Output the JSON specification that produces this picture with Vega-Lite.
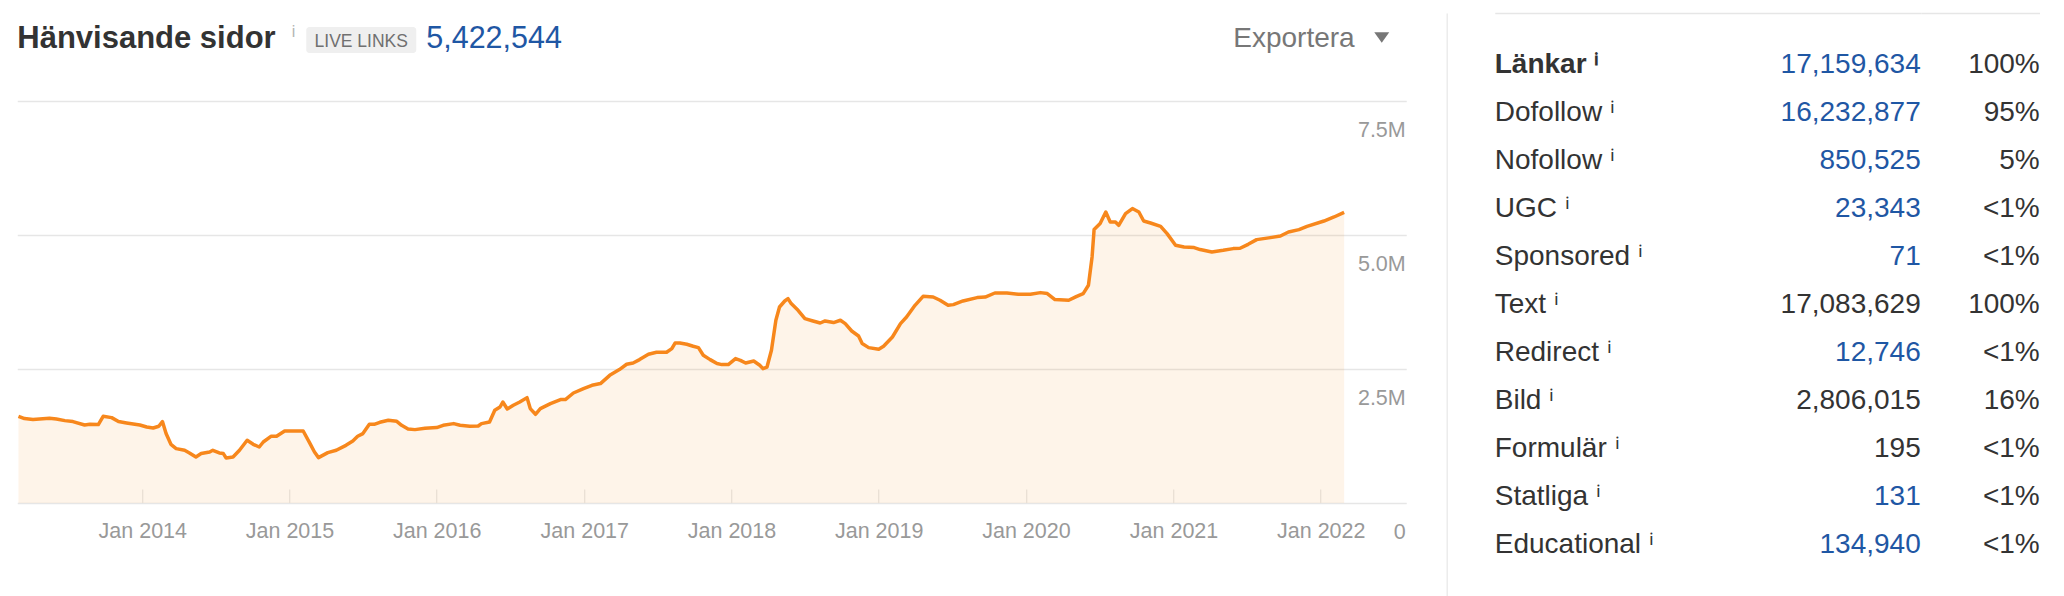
{
  "$schema": "https://vega.github.io/schema/vega-lite/v6.json",
  "padding": {"left": 16.25, "top": 13, "right": 0, "bottom": 0},
  "background": "white",
  "config": {"view": {"stroke": null}, "font": "Liberation Sans"},
  "datasets": {
    "links": [
      {"date": "2013-02-28", "links": 1618000}, {"date": "2013-03-15", "links": 1575000}, {"date": "2013-04-05", "links": 1556000},
      {"date": "2013-05-16", "links": 1580000}, {"date": "2013-06-02", "links": 1567000}, {"date": "2013-06-23", "links": 1537000},
      {"date": "2013-07-13", "links": 1519000}, {"date": "2013-08-11", "links": 1455000}, {"date": "2013-08-24", "links": 1468000},
      {"date": "2013-09-14", "links": 1463000}, {"date": "2013-09-26", "links": 1618000}, {"date": "2013-10-17", "links": 1593000},
      {"date": "2013-11-03", "links": 1519000}, {"date": "2013-11-23", "links": 1493000}, {"date": "2013-12-26", "links": 1455000},
      {"date": "2014-01-12", "links": 1418000}, {"date": "2014-01-28", "links": 1399000}, {"date": "2014-02-11", "links": 1431000},
      {"date": "2014-02-20", "links": 1519000}, {"date": "2014-03-01", "links": 1295000}, {"date": "2014-03-13", "links": 1095000},
      {"date": "2014-03-26", "links": 1015000}, {"date": "2014-04-16", "links": 983000}, {"date": "2014-04-28", "links": 933000},
      {"date": "2014-05-14", "links": 858000}, {"date": "2014-05-27", "links": 922000}, {"date": "2014-06-17", "links": 951000},
      {"date": "2014-06-25", "links": 983000}, {"date": "2014-07-11", "links": 933000}, {"date": "2014-07-21", "links": 922000},
      {"date": "2014-07-28", "links": 840000}, {"date": "2014-08-14", "links": 858000}, {"date": "2014-08-30", "links": 983000},
      {"date": "2014-09-18", "links": 1170000}, {"date": "2014-10-03", "links": 1095000}, {"date": "2014-10-18", "links": 1045000},
      {"date": "2014-10-28", "links": 1138000}, {"date": "2014-11-16", "links": 1244000}, {"date": "2014-11-30", "links": 1244000},
      {"date": "2014-12-20", "links": 1343000}, {"date": "2015-01-11", "links": 1343000}, {"date": "2015-02-04", "links": 1343000},
      {"date": "2015-02-21", "links": 1108000}, {"date": "2015-03-04", "links": 951000}, {"date": "2015-03-14", "links": 847000},
      {"date": "2015-04-06", "links": 940000}, {"date": "2015-04-27", "links": 983000}, {"date": "2015-05-21", "links": 1076000},
      {"date": "2015-06-07", "links": 1157000}, {"date": "2015-06-19", "links": 1244000}, {"date": "2015-07-02", "links": 1295000},
      {"date": "2015-07-18", "links": 1468000}, {"date": "2015-07-30", "links": 1468000}, {"date": "2015-08-13", "links": 1506000},
      {"date": "2015-09-03", "links": 1543000}, {"date": "2015-09-24", "links": 1524000}, {"date": "2015-10-06", "links": 1450000},
      {"date": "2015-10-22", "links": 1381000}, {"date": "2015-11-08", "links": 1369000}, {"date": "2015-12-03", "links": 1394000},
      {"date": "2016-01-01", "links": 1407000}, {"date": "2016-01-17", "links": 1450000}, {"date": "2016-02-12", "links": 1481000},
      {"date": "2016-02-28", "links": 1450000}, {"date": "2016-03-23", "links": 1431000}, {"date": "2016-04-13", "links": 1437000},
      {"date": "2016-04-21", "links": 1481000}, {"date": "2016-05-11", "links": 1511000}, {"date": "2016-05-24", "links": 1729000},
      {"date": "2016-06-06", "links": 1791000}, {"date": "2016-06-13", "links": 1884000}, {"date": "2016-06-24", "links": 1754000},
      {"date": "2016-07-09", "links": 1823000}, {"date": "2016-07-25", "links": 1884000}, {"date": "2016-08-12", "links": 1966000},
      {"date": "2016-08-20", "links": 1761000}, {"date": "2016-09-02", "links": 1655000}, {"date": "2016-09-14", "links": 1761000},
      {"date": "2016-10-09", "links": 1854000}, {"date": "2016-11-03", "links": 1929000}, {"date": "2016-11-15", "links": 1929000},
      {"date": "2016-12-05", "links": 2052000}, {"date": "2016-12-30", "links": 2134000}, {"date": "2017-01-20", "links": 2196000},
      {"date": "2017-02-10", "links": 2228000}, {"date": "2017-03-05", "links": 2382000}, {"date": "2017-03-29", "links": 2489000},
      {"date": "2017-04-16", "links": 2588000}, {"date": "2017-05-02", "links": 2612000}, {"date": "2017-05-18", "links": 2675000},
      {"date": "2017-06-09", "links": 2774000}, {"date": "2017-06-29", "links": 2812000}, {"date": "2017-07-24", "links": 2812000},
      {"date": "2017-08-06", "links": 2881000}, {"date": "2017-08-14", "links": 2985000}, {"date": "2017-08-26", "links": 2985000},
      {"date": "2017-09-12", "links": 2961000}, {"date": "2017-09-28", "links": 2924000}, {"date": "2017-10-11", "links": 2899000},
      {"date": "2017-10-23", "links": 2756000}, {"date": "2017-11-09", "links": 2675000}, {"date": "2017-11-26", "links": 2601000},
      {"date": "2017-12-08", "links": 2582000}, {"date": "2017-12-24", "links": 2582000}, {"date": "2018-01-11", "links": 2694000},
      {"date": "2018-01-23", "links": 2662000}, {"date": "2018-02-05", "links": 2612000}, {"date": "2018-02-25", "links": 2649000},
      {"date": "2018-03-12", "links": 2569000}, {"date": "2018-03-20", "links": 2507000}, {"date": "2018-03-30", "links": 2537000},
      {"date": "2018-04-10", "links": 2849000}, {"date": "2018-04-21", "links": 3409000}, {"date": "2018-04-30", "links": 3657000},
      {"date": "2018-05-13", "links": 3769000}, {"date": "2018-05-21", "links": 3813000}, {"date": "2018-05-29", "links": 3720000},
      {"date": "2018-06-15", "links": 3595000}, {"date": "2018-07-02", "links": 3440000}, {"date": "2018-07-22", "links": 3396000},
      {"date": "2018-08-09", "links": 3358000}, {"date": "2018-08-21", "links": 3396000}, {"date": "2018-09-11", "links": 3366000},
      {"date": "2018-09-28", "links": 3409000}, {"date": "2018-10-10", "links": 3347000}, {"date": "2018-10-26", "links": 3209000},
      {"date": "2018-11-12", "links": 3116000}, {"date": "2018-11-21", "links": 2974000}, {"date": "2018-12-07", "links": 2899000},
      {"date": "2019-01-01", "links": 2868000}, {"date": "2019-01-13", "links": 2924000}, {"date": "2019-02-04", "links": 3097000},
      {"date": "2019-02-24", "links": 3347000}, {"date": "2019-03-11", "links": 3470000}, {"date": "2019-04-01", "links": 3688000},
      {"date": "2019-04-21", "links": 3856000}, {"date": "2019-05-16", "links": 3843000}, {"date": "2019-06-02", "links": 3782000},
      {"date": "2019-06-22", "links": 3688000}, {"date": "2019-07-05", "links": 3701000}, {"date": "2019-07-29", "links": 3769000},
      {"date": "2019-09-02", "links": 3832000}, {"date": "2019-09-22", "links": 3843000}, {"date": "2019-10-16", "links": 3918000},
      {"date": "2019-11-15", "links": 3918000}, {"date": "2019-12-13", "links": 3894000}, {"date": "2020-01-12", "links": 3894000},
      {"date": "2020-02-06", "links": 3925000}, {"date": "2020-02-23", "links": 3907000}, {"date": "2020-03-13", "links": 3795000},
      {"date": "2020-04-16", "links": 3782000}, {"date": "2020-05-06", "links": 3856000}, {"date": "2020-05-22", "links": 3907000},
      {"date": "2020-06-04", "links": 4062000}, {"date": "2020-06-13", "links": 4590000}, {"date": "2020-06-18", "links": 5101000},
      {"date": "2020-07-03", "links": 5213000}, {"date": "2020-07-17", "links": 5429000}, {"date": "2020-07-28", "links": 5243000},
      {"date": "2020-08-10", "links": 5243000}, {"date": "2020-08-18", "links": 5181000}, {"date": "2020-09-04", "links": 5399000},
      {"date": "2020-09-21", "links": 5493000}, {"date": "2020-10-07", "links": 5429000}, {"date": "2020-10-19", "links": 5261000},
      {"date": "2020-11-05", "links": 5224000}, {"date": "2020-11-30", "links": 5162000}, {"date": "2020-12-16", "links": 5026000},
      {"date": "2021-01-06", "links": 4808000}, {"date": "2021-01-27", "links": 4776000}, {"date": "2021-02-21", "links": 4765000},
      {"date": "2021-03-08", "links": 4728000}, {"date": "2021-04-06", "links": 4683000}, {"date": "2021-05-04", "links": 4714000},
      {"date": "2021-05-29", "links": 4746000}, {"date": "2021-06-15", "links": 4752000}, {"date": "2021-07-05", "links": 4826000},
      {"date": "2021-07-26", "links": 4914000}, {"date": "2021-08-29", "links": 4951000}, {"date": "2021-09-23", "links": 4981000},
      {"date": "2021-10-13", "links": 5056000}, {"date": "2021-11-08", "links": 5101000}, {"date": "2021-11-28", "links": 5162000},
      {"date": "2022-01-09", "links": 5261000}, {"date": "2022-02-03", "links": 5336000}, {"date": "2022-02-28", "links": 5422544}
    ],
    "table": [
      {"name": "Länkar", "count": "17,159,634", "share": "100%", "link": "yes"},
      {"name": "Dofollow", "count": "16,232,877", "share": "95%", "link": "yes"},
      {"name": "Nofollow", "count": "850,525", "share": "5%", "link": "yes"},
      {"name": "UGC", "count": "23,343", "share": "<1%", "link": "yes"},
      {"name": "Sponsored", "count": "71", "share": "<1%", "link": "yes"},
      {"name": "Text", "count": "17,083,629", "share": "100%", "link": "no"},
      {"name": "Redirect", "count": "12,746", "share": "<1%", "link": "yes"},
      {"name": "Bild", "count": "2,806,015", "share": "16%", "link": "no"},
      {"name": "Formulär", "count": "195", "share": "<1%", "link": "no"},
      {"name": "Statliga", "count": "131", "share": "<1%", "link": "yes"},
      {"name": "Educational", "count": "134,940", "share": "<1%", "link": "yes"}
    ]
  },
  "spacing": 40.5,
  "hconcat": [
    {
      "spacing": 46,
      "vconcat": [
        {
          "bounds": "flush",
          "spacing": 0,
          "hconcat": [
            {
              "width": 273, "height": 40,
              "data": {"values": [{"label": "Hänvisande sidor"}]},
              "mark": {"type": "text", "align": "left", "baseline": "alphabetic", "fontSize": 31, "fontWeight": "bold", "color": "#333333"},
              "encoding": {
                "x": {"datum": "title", "type": "nominal", "bandPosition": 0, "scale": {"type": "band", "paddingInner": 0, "paddingOuter": 0}, "axis": null},
                "y": {"datum": "title", "type": "nominal", "bandPosition": 0.875, "scale": {"type": "band", "paddingInner": 0, "paddingOuter": 0}, "axis": null},
                "text": {"field": "label"}
              }
            },
            {
              "width": 16, "height": 40,
              "data": {"values": [{"label": "i"}]},
              "mark": {"type": "text", "align": "center", "baseline": "alphabetic", "fontSize": 16, "color": "#b5b5b5"},
              "encoding": {
                "x": {"datum": "info", "type": "nominal", "bandPosition": 0.2, "scale": {"type": "band", "paddingInner": 0, "paddingOuter": 0}, "axis": null},
                "y": {"datum": "info", "type": "nominal", "bandPosition": 0.6, "scale": {"type": "band", "paddingInner": 0, "paddingOuter": 0}, "axis": null},
                "text": {"field": "label"}
              }
            },
            {
              "width": 120, "height": 40,
              "data": {"values": [{"label": "LIVE LINKS"}]},
              "layer": [
                {
                  "mark": {"type": "rect", "color": "#efefef", "cornerRadius": 3},
                  "encoding": {
                    "x": {"datum": "badge", "type": "nominal", "scale": {"type": "band", "paddingInner": 0, "paddingOuter": 0.04545, "align": 0}, "axis": null},
                    "y": {"datum": "badge", "type": "nominal", "scale": {"type": "band", "paddingInner": 0, "paddingOuter": 0.269, "align": 1}, "axis": null}
                  }
                },
                {
                  "mark": {"type": "text", "align": "center", "baseline": "alphabetic", "fontSize": 17.5, "color": "#707070"},
                  "encoding": {
                    "x": {"datum": "badge", "type": "nominal", "bandPosition": 0.5},
                    "y": {"datum": "badge", "type": "nominal", "bandPosition": 0.769},
                    "text": {"field": "label"}
                  }
                }
              ]
            },
            {
              "width": 807, "height": 40,
              "data": {"values": [{"label": "5,422,544"}]},
              "mark": {"type": "text", "align": "left", "baseline": "alphabetic", "fontSize": 30.5, "color": "#1f57a4"},
              "encoding": {
                "x": {"datum": "total", "type": "nominal", "bandPosition": 0, "scale": {"type": "band", "paddingInner": 0, "paddingOuter": 0}, "axis": null},
                "y": {"datum": "total", "type": "nominal", "bandPosition": 0.875, "scale": {"type": "band", "paddingInner": 0, "paddingOuter": 0}, "axis": null},
                "text": {"field": "label"}
              }
            },
            {
              "width": 140, "height": 40,
              "data": {"values": [{"label": "Exportera"}]},
              "mark": {"type": "text", "align": "left", "baseline": "alphabetic", "fontSize": 28, "color": "#777777"},
              "encoding": {
                "x": {"datum": "export", "type": "nominal", "bandPosition": 0, "scale": {"type": "band", "paddingInner": 0, "paddingOuter": 0}, "axis": null},
                "y": {"datum": "export", "type": "nominal", "bandPosition": 0.85, "scale": {"type": "band", "paddingInner": 0, "paddingOuter": 0}, "axis": null},
                "text": {"field": "label"}
              }
            },
            {
              "width": 17, "height": 40,
              "data": {"values": [{"label": "menu"}]},
              "mark": {"type": "point", "shape": "M-1,-0.7L1,-0.7L0,0.7Z", "size": 225, "filled": true, "color": "#777777", "opacity": 1, "strokeWidth": 0},
              "encoding": {
                "x": {"datum": "menu", "type": "nominal", "bandPosition": 0.5, "scale": {"type": "band", "paddingInner": 0, "paddingOuter": 0}, "axis": null},
                "y": {"datum": "menu", "type": "nominal", "bandPosition": 0.6125, "scale": {"type": "band", "paddingInner": 0, "paddingOuter": 0}, "axis": null}
              }
            }
          ]
        },
        {
          "width": 1389, "height": 402,
          "data": {"name": "links"},
          "encoding": {
            "x": {
              "field": "date", "type": "temporal",
              "scale": {"type": "utc", "domain": [{"year": 2013, "month": 2, "date": 25, "utc": true}, {"year": 2022, "month": 8, "date": 1, "utc": true}]},
              "axis": {
                "orient": "bottom", "offset": -14, "title": null, "grid": false, "domain": false,
                "values": [
                  {"year": 2014, "month": 1, "date": 1, "utc": true}, {"year": 2015, "month": 1, "date": 1, "utc": true},
                  {"year": 2016, "month": 1, "date": 1, "utc": true}, {"year": 2017, "month": 1, "date": 1, "utc": true},
                  {"year": 2018, "month": 1, "date": 1, "utc": true}, {"year": 2019, "month": 1, "date": 1, "utc": true},
                  {"year": 2020, "month": 1, "date": 1, "utc": true}, {"year": 2021, "month": 1, "date": 1, "utc": true},
                  {"year": 2022, "month": 1, "date": 1, "utc": true}
                ],
                "format": "%b %Y",
                "ticks": true, "tickSize": 14, "tickColor": "#e3e3e3", "tickWidth": 1,
                "labelFontSize": 21.5, "labelColor": "#999999", "labelPadding": 34, "labelBaseline": "alphabetic",
                "labelFlush": false, "labelOverlap": false
              }
            },
            "y": {
              "field": "links", "type": "quantitative",
              "scale": {"domain": [0, 7500000], "nice": false},
              "axis": {
                "orient": "right", "title": null, "values": [0, 2500000, 5000000, 7500000],
                "grid": true, "gridColor": "#e6e6e6", "gridWidth": 1.5, "domain": false, "ticks": false,
                "labelAlign": "right", "labelPadding": -1, "labelBaseline": "alphabetic", "labelOffset": 35,
                "labelExpr": "datum.value == 0 ? '0' : format(datum.value / 1000000, '.1f') + 'M'",
                "labelFontSize": 21.5, "labelColor": "#999999", "labelFlush": false, "labelOverlap": false
              }
            }
          },
          "layer": [
            {"mark": {"type": "area", "color": "#f08a10", "fillOpacity": 0.09}, "encoding": {}},
            {"mark": {"type": "line", "color": "#f7871c", "strokeWidth": 3.5, "strokeJoin": "round"}, "encoding": {}}
          ]
        }
      ]
    },
    {
      "bounds": "flush",
      "spacing": 0,
      "hconcat": [
        {
          "width": 426, "height": 583,
          "data": {"name": "table"},
          "encoding": {
            "y": {
              "field": "name", "type": "nominal", "sort": null, "bandPosition": 0.71,
              "scale": {"type": "band", "paddingInner": 0, "paddingOuter": 0.573, "align": 0.473},
              "axis": {"orient": "left", "offset": 48, "domain": true, "domainColor": "#ececec", "domainWidth": 1.5, "ticks": false, "labels": false, "title": null, "grid": false}
            }
          },
          "layer": [
            {
              "mark": {"type": "text", "align": "left", "baseline": "alphabetic", "fontSize": 28, "color": "#333333",
                "text": {"expr": "datum.name + ' ⁱ'"},
                "fontWeight": {"expr": "datum.name === 'Länkar' ? 'bold' : 'normal'"}},
              "encoding": {
                "x": {"datum": "name", "type": "nominal", "bandPosition": 0,
                  "scale": {"type": "band", "domain": ["name", "count"], "paddingInner": 0, "paddingOuter": 0},
                  "axis": {"orient": "top", "domain": true, "domainColor": "#e6e6e6", "domainWidth": 1.5, "ticks": false, "labels": false, "title": null, "grid": false}}
              }
            },
            {
              "mark": {"type": "text", "align": "right", "baseline": "alphabetic", "fontSize": 28},
              "encoding": {
                "x": {"datum": "count", "type": "nominal", "bandPosition": 1},
                "text": {"field": "count"},
                "color": {"field": "link", "type": "nominal", "scale": {"domain": ["yes", "no"], "range": ["#1f57a4", "#333333"]}, "legend": null}
              }
            }
          ]
        },
        {
          "width": 119, "height": 583,
          "data": {"name": "table"},
          "mark": {"type": "text", "align": "right", "baseline": "alphabetic", "fontSize": 28, "color": "#333333"},
          "encoding": {
            "y": {
              "field": "name", "type": "nominal", "sort": null, "bandPosition": 0.71,
              "scale": {"type": "band", "paddingInner": 0, "paddingOuter": 0.573, "align": 0.473},
              "axis": null
            },
            "x": {"datum": "share", "type": "nominal", "bandPosition": 1,
              "scale": {"type": "band", "paddingInner": 0, "paddingOuter": 0},
              "axis": {"orient": "top", "domain": true, "domainColor": "#e6e6e6", "domainWidth": 1.5, "ticks": false, "labels": false, "title": null, "grid": false}},
            "text": {"field": "share"}
          }
        }
      ]
    }
  ]
}
